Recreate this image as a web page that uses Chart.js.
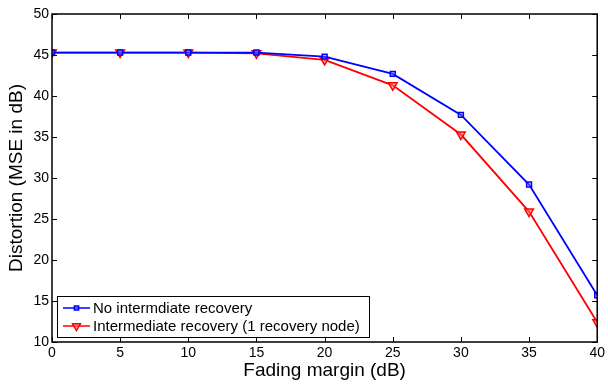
<!DOCTYPE html>
<html>
<head>
<meta charset="utf-8">
<script src="https://cdn.jsdelivr.net/npm/chart.js@4.4.0/dist/chart.umd.min.js"></script>
<style>
  html, body { margin: 0; padding: 0; background: #fff; }
  #wrap { width: 608px; height: 386px; position: relative; }
</style>
</head>
<body>
<div id="wrap"><canvas id="graph-distortion" width="608" height="386"></canvas></div>
<script>
const fadingMargin = [0, 5, 10, 15, 20, 25, 30, 35, 40];
const noRecovery = [45.3, 45.3, 45.3, 45.3, 44.8, 42.7, 37.7, 29.2, 15.7];
const withRecovery = [45.3, 45.3, 45.3, 45.2, 44.4, 41.3, 35.3, 25.9, 12.4];
const seriesNames = ["No intermdiate recovery", "Intermediate recovery (1 recovery node)"];
const xTicks = [0, 5, 10, 15, 20, 25, 30, 35, 40];
const yTicks = [10, 15, 20, 25, 30, 35, 40, 45, 50];

const font = "'Liberation Sans', Arial, sans-serif";

// box + inward ticks on all four sides, matlab style
const boxTicks = {
  id: "boxTicks",
  afterDraw(chart) {
    const { ctx, chartArea: a, scales } = chart;
    ctx.save();
    ctx.strokeStyle = "#000";
    ctx.lineWidth = 1;
    const len = 5;
    ctx.beginPath();
    xTicks.forEach((v) => {
      const x = Math.round(scales.x.getPixelForValue(v)) + 0.5;
      ctx.moveTo(x, a.bottom); ctx.lineTo(x, a.bottom - len);
      ctx.moveTo(x, a.top); ctx.lineTo(x, a.top + len);
    });
    yTicks.forEach((v) => {
      const y = Math.round(scales.y.getPixelForValue(v)) + 0.5;
      ctx.moveTo(a.left, y); ctx.lineTo(a.left + len, y);
      ctx.moveTo(a.right, y); ctx.lineTo(a.right - len, y);
    });
    ctx.stroke();
    ctx.lineWidth = 1.5;
    ctx.strokeRect(a.left, a.top, a.right - a.left, a.bottom - a.top);
    ctx.restore();
  },
};

// legend box in the lower left corner of the plot
const innerLegend = {
  id: "innerLegend",
  afterDraw(chart) {
    const { ctx, chartArea: a } = chart;
    const x0 = a.left + 5, y0 = a.bottom - 46, w = 312, h = 41;
    ctx.save();
    ctx.fillStyle = "#fff";
    ctx.fillRect(x0, y0, w, h);
    ctx.strokeStyle = "#000";
    ctx.lineWidth = 1;
    ctx.strokeRect(x0 + 0.5, y0 + 0.5, w, h);
    ctx.font = "15px " + font;
    ctx.textBaseline = "middle";
    chart.data.datasets.forEach((ds, i) => {
      const y = y0 + 12 + i * 18;
      ctx.strokeStyle = ds.borderColor;
      ctx.lineWidth = 1.5;
      ctx.beginPath();
      ctx.moveTo(x0 + 6, y); ctx.lineTo(x0 + 33, y);
      ctx.stroke();
      ctx.fillStyle = ds.backgroundColor;
      Chart.helpers.drawPoint(ctx, {
        pointStyle: ds.pointStyle, radius: ds.pointRadius - 0.5,
        rotation: ds.pointRotation || 0, borderWidth: 1.5,
      }, x0 + 19.5, y);
      ctx.fillStyle = "#000";
      ctx.fillText(ds.label, x0 + 36, y + 1);
    });
    ctx.restore();
  },
};

new Chart(document.getElementById("graph-distortion"), {
  type: "line",
  data: {
    datasets: [
      {
        label: seriesNames[0],
        data: fadingMargin.map((x, i) => ({ x, y: noRecovery[i] })),
        borderColor: "#0000ff",
        backgroundColor: "rgba(120,120,255,0.4)",
        pointStyle: "rect",
        pointRadius: 3.5,
        pointBorderWidth: 1.5,
        borderWidth: 1.8,
      },
      {
        label: seriesNames[1],
        data: fadingMargin.map((x, i) => ({ x, y: withRecovery[i] })),
        borderColor: "#ff0000",
        backgroundColor: "rgba(255,110,110,0.6)",
        pointStyle: "triangle",
        pointRotation: 180,
        pointRadius: 5,
        pointBorderWidth: 1.5,
        borderWidth: 1.8,
      },
    ],
  },
  options: {
    responsive: false,
    animation: false,
    layout: { padding: { left: 0, right: 10, top: 14, bottom: 0 } },
    plugins: { legend: { display: false }, tooltip: { enabled: false } },
    scales: {
      x: {
        type: "linear",
        min: 0,
        max: 40,
        afterBuildTicks: (s) => { s.ticks = xTicks.map((v) => ({ value: v })); },
        afterFit: (s) => { s.height = 44; },
        grid: { display: false, drawTicks: false },
        border: { display: false },
        ticks: { color: "#000", font: { family: font, size: 14 }, padding: 3, maxRotation: 0 },
        title: { display: true, text: "Fading margin (dB)", color: "#000", font: { family: font, size: 19 }, padding: { top: 0, bottom: 4 } },
      },
      y: {
        type: "linear",
        min: 10,
        max: 50,
        afterBuildTicks: (s) => { s.ticks = yTicks.map((v) => ({ value: v })); },
        afterFit: (s) => { s.width = 52; },
        grid: { display: false, drawTicks: false },
        border: { display: false },
        ticks: { color: "#000", font: { family: font, size: 14 }, padding: 3 },
        title: { display: true, text: "Distortion (MSE in dB)", color: "#000", font: { family: font, size: 19 }, padding: { top: 5, bottom: 0 } },
      },
    },
  },
  plugins: [boxTicks, innerLegend],
});
</script>
</body>
</html>
